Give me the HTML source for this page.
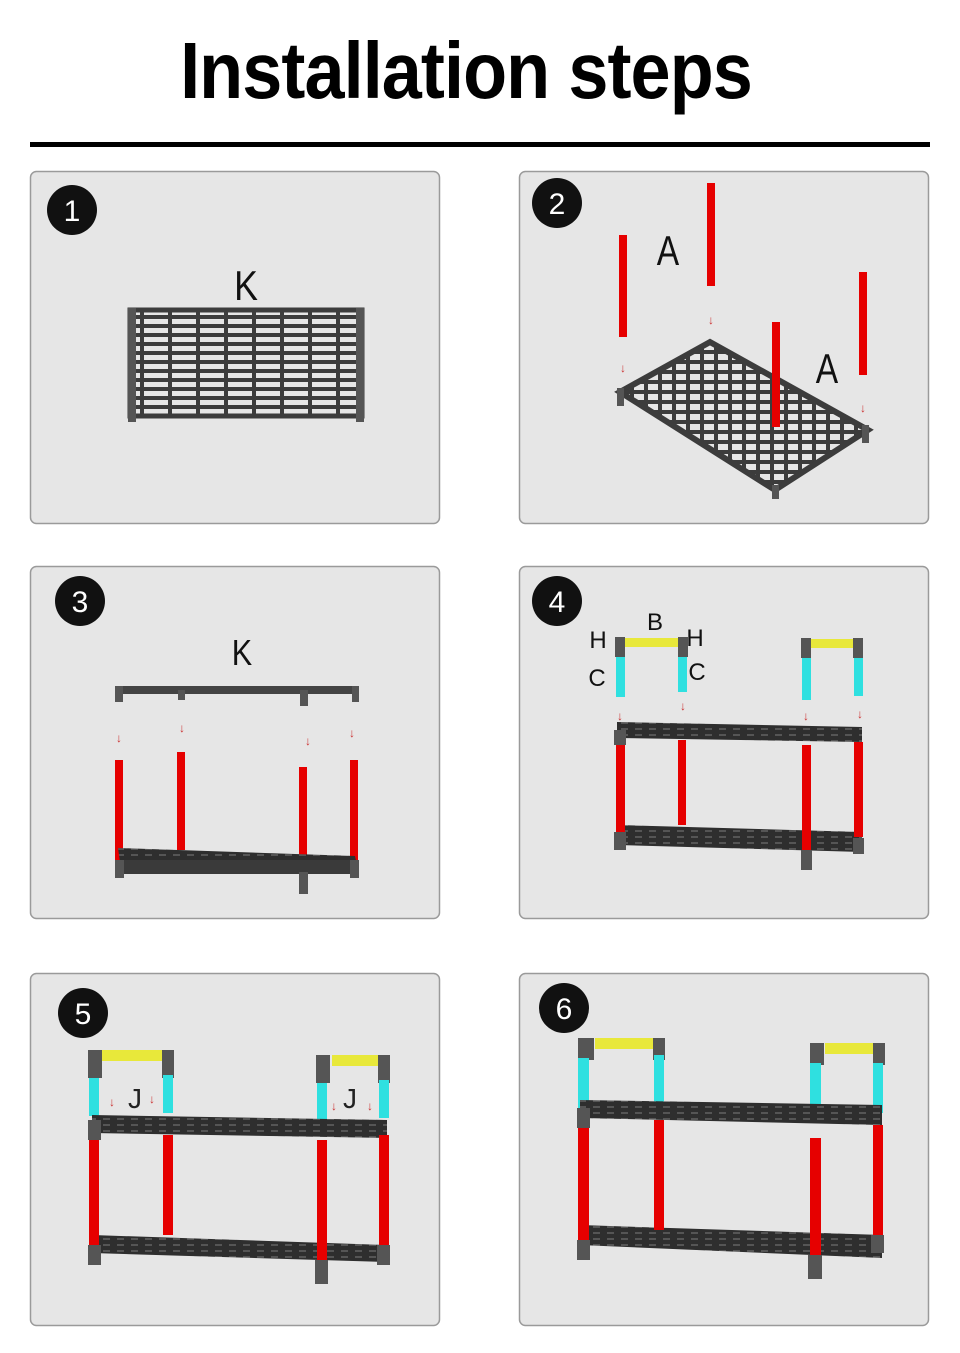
<!DOCTYPE html>
<html><head><meta charset="utf-8"><style>
html,body{margin:0;padding:0;background:#fff;width:960px;height:1353px;overflow:hidden}
svg{display:block}
</style></head><body>
<svg width="960" height="1353" viewBox="0 0 960 1353" xmlns="http://www.w3.org/2000/svg" font-family="Liberation Sans, sans-serif">
<defs>
<pattern id="g" width="28" height="9" patternUnits="userSpaceOnUse"><rect width="28" height="9" fill="#e6e6e6"/><rect width="28" height="4" fill="#3c3c3c"/><rect width="4" height="9" fill="#3c3c3c"/></pattern>
<pattern id="g2" width="14" height="10" patternUnits="userSpaceOnUse"><rect width="14" height="10" fill="#e6e6e6"/><rect width="14" height="4" fill="#3c3c3c"/><rect width="4" height="10" fill="#3c3c3c"/></pattern>
<pattern id="s" width="14" height="6" patternUnits="userSpaceOnUse"><rect width="14" height="6" fill="#2e2e2e"/><rect x="5" y="2" width="7" height="2" fill="#555"/></pattern>
</defs>
<text x="466" y="98" text-anchor="middle" font-size="80" font-weight="bold" fill="#000" transform="translate(466 0) scale(0.9 1) translate(-466 0)" letter-spacing="-1">Installation steps</text>
<rect x="30" y="142" width="900" height="5" fill="#000"/>
<g fill="#e6e6e6" stroke="#9a9a9a" stroke-width="1.5">
<rect x="30.5" y="171.5" width="409" height="352" rx="6"/>
<rect x="519.5" y="171.5" width="409" height="352" rx="6"/>
<rect x="30.5" y="566.5" width="409" height="352" rx="6"/>
<rect x="519.5" y="566.5" width="409" height="352" rx="6"/>
<rect x="30.5" y="973.5" width="409" height="352" rx="6"/>
<rect x="519.5" y="973.5" width="409" height="352" rx="6"/>
</g>
<g fill="#111"><circle cx="72" cy="210" r="25"/><circle cx="557" cy="203" r="25"/><circle cx="80" cy="601" r="25"/><circle cx="557" cy="601" r="25"/><circle cx="83" cy="1013" r="25"/><circle cx="564" cy="1008" r="25"/></g>
<g fill="#fff" font-size="30" text-anchor="middle"><text x="72" y="221">1</text><text x="557" y="214">2</text><text x="80" y="612">3</text><text x="557" y="612">4</text><text x="83" y="1024">5</text><text x="564" y="1019">6</text></g>
<!-- panel 1 -->
<text x="246" y="300" font-size="42" text-anchor="middle" fill="#111" transform="translate(246 0) scale(0.85 1) translate(-246 0)">K</text>
<rect x="130" y="310" width="232" height="106" fill="url(#g)" stroke="#3c3c3c" stroke-width="5"/>
<g fill="#555"><rect x="128" y="308" width="8" height="114"/><rect x="356" y="308" width="8" height="114"/></g>
<!-- panel 2 -->
<polygon points="620,392 710,342 868,430 775,490" fill="url(#g2)" stroke="#3c3c3c" stroke-width="6"/>
<g fill="#555"><rect x="617" y="388" width="7" height="18"/><rect x="772" y="485" width="7" height="14"/><rect x="862" y="425" width="7" height="18"/></g>
<g fill="#e60000"><rect x="619" y="235" width="8" height="102"/><rect x="707" y="183" width="8" height="103"/><rect x="772" y="322" width="8" height="105"/><rect x="859" y="272" width="8" height="103"/></g>
<text x="668" y="265" font-size="42" text-anchor="middle" fill="#111" transform="translate(668 0) scale(0.8 1) translate(-668 0)">A</text>
<text x="827" y="383" font-size="42" text-anchor="middle" fill="#111" transform="translate(827 0) scale(0.8 1) translate(-827 0)">A</text>
<g fill="#c33" font-size="12" text-anchor="middle"><text x="623" y="372">↓</text><text x="711" y="324">↓</text><text x="863" y="412">↓</text></g>
<!-- panel 3 -->
<text x="242" y="665" font-size="36" text-anchor="middle" fill="#111" transform="translate(242 0) scale(0.85 1) translate(-242 0)">K</text>
<rect x="115" y="686" width="243" height="8" fill="#444"/>
<g fill="#555"><rect x="115" y="686" width="8" height="16"/><rect x="178" y="690" width="7" height="10"/><rect x="300" y="690" width="8" height="16"/><rect x="352" y="686" width="7" height="16"/></g>
<g fill="#c33" font-size="12" text-anchor="middle"><text x="119" y="742">↓</text><text x="182" y="732">↓</text><text x="308" y="745">↓</text><text x="352" y="737">↓</text></g>
<g fill="#e60000"><rect x="115" y="760" width="8" height="102"/><rect x="177" y="752" width="8" height="98"/><rect x="299" y="767" width="8" height="110"/><rect x="350" y="760" width="8" height="104"/></g>
<polygon points="118,848 355,856 358,870 120,862" fill="url(#s)"/>
<rect x="118" y="860" width="240" height="14" fill="#3a3a3a"/>
<g fill="#555"><rect x="115" y="860" width="9" height="18"/><rect x="299" y="872" width="9" height="22"/><rect x="350" y="860" width="9" height="18"/></g>
<!-- panel 4 -->
<g font-size="24" fill="#111" text-anchor="middle"><text x="598" y="648">H</text><text x="655" y="630">B</text><text x="695" y="646">H</text><text x="597" y="686">C</text><text x="697" y="680">C</text></g>
<g fill="#e8e83a"><rect x="622" y="638" width="60" height="9"/><rect x="808" y="639" width="50" height="9"/></g>
<g fill="#555"><rect x="615" y="637" width="10" height="20"/><rect x="678" y="637" width="10" height="20"/><rect x="801" y="638" width="10" height="20"/><rect x="853" y="638" width="10" height="20"/></g>
<g fill="#2fe0e0"><rect x="616" y="657" width="9" height="40"/><rect x="678" y="657" width="9" height="35"/><rect x="802" y="658" width="9" height="42"/><rect x="854" y="658" width="9" height="38"/></g>
<g fill="#c33" font-size="12" text-anchor="middle"><text x="620" y="720">↓</text><text x="683" y="710">↓</text><text x="806" y="720">↓</text><text x="860" y="718">↓</text></g>
<polygon points="617,722 862,727 862,742 617,738" fill="url(#s)"/>
<polygon points="617,825 862,832 862,852 617,845" fill="url(#s)"/>
<g fill="#e60000"><rect x="616" y="742" width="9" height="92"/><rect x="678" y="740" width="8" height="85"/><rect x="802" y="745" width="9" height="108"/><rect x="854" y="742" width="9" height="95"/></g>
<g fill="#555"><rect x="614" y="730" width="12" height="15"/><rect x="614" y="832" width="12" height="18"/><rect x="801" y="850" width="11" height="20"/><rect x="853" y="838" width="11" height="16"/></g>
<!-- panel 5 -->
<g fill="#e8e83a"><rect x="102" y="1050" width="62" height="11"/><rect x="332" y="1055" width="52" height="11"/></g>
<g fill="#555"><rect x="88" y="1050" width="14" height="28"/><rect x="162" y="1050" width="12" height="28"/><rect x="316" y="1055" width="14" height="28"/><rect x="378" y="1055" width="12" height="28"/></g>
<g fill="#2fe0e0"><rect x="89" y="1078" width="10" height="38"/><rect x="163" y="1075" width="10" height="38"/><rect x="317" y="1083" width="10" height="38"/><rect x="379" y="1080" width="10" height="38"/></g>
<text x="128" y="1108" font-size="28" fill="#222">J</text><text x="343" y="1108" font-size="28" fill="#222">J</text>
<g fill="#c33" font-size="12" text-anchor="middle"><text x="112" y="1106">↓</text><text x="152" y="1103">↓</text><text x="334" y="1110">↓</text><text x="370" y="1110">↓</text></g>
<polygon points="92,1115 387,1120 387,1138 92,1133" fill="url(#s)"/>
<polygon points="92,1235 387,1245 387,1262 92,1253" fill="url(#s)"/>
<g fill="#e60000"><rect x="89" y="1140" width="10" height="110"/><rect x="163" y="1135" width="10" height="100"/><rect x="317" y="1140" width="10" height="125"/><rect x="379" y="1135" width="10" height="115"/></g>
<g fill="#555"><rect x="88" y="1120" width="13" height="20"/><rect x="88" y="1245" width="13" height="20"/><rect x="315" y="1260" width="13" height="24"/><rect x="377" y="1245" width="13" height="20"/></g>
<!-- panel 6 -->
<g fill="#e8e83a"><rect x="595" y="1038" width="60" height="11"/><rect x="825" y="1043" width="50" height="11"/></g>
<g fill="#555"><rect x="578" y="1038" width="16" height="22"/><rect x="653" y="1038" width="12" height="22"/><rect x="810" y="1043" width="14" height="22"/><rect x="873" y="1043" width="12" height="22"/></g>
<g fill="#2fe0e0"><rect x="578" y="1058" width="11" height="50"/><rect x="654" y="1055" width="10" height="48"/><rect x="810" y="1063" width="11" height="55"/><rect x="873" y="1063" width="10" height="50"/></g>
<polygon points="580,1100 882,1105 882,1125 580,1118" fill="url(#s)"/>
<polygon points="580,1225 882,1235 882,1258 580,1245" fill="url(#s)"/>
<g fill="#e60000"><rect x="578" y="1128" width="11" height="118"/><rect x="654" y="1120" width="10" height="110"/><rect x="810" y="1138" width="11" height="122"/><rect x="873" y="1125" width="10" height="115"/></g>
<g fill="#555"><rect x="577" y="1108" width="13" height="20"/><rect x="577" y="1240" width="13" height="20"/><rect x="808" y="1255" width="14" height="24"/><rect x="871" y="1235" width="13" height="18"/></g>
</svg>
</body></html>
